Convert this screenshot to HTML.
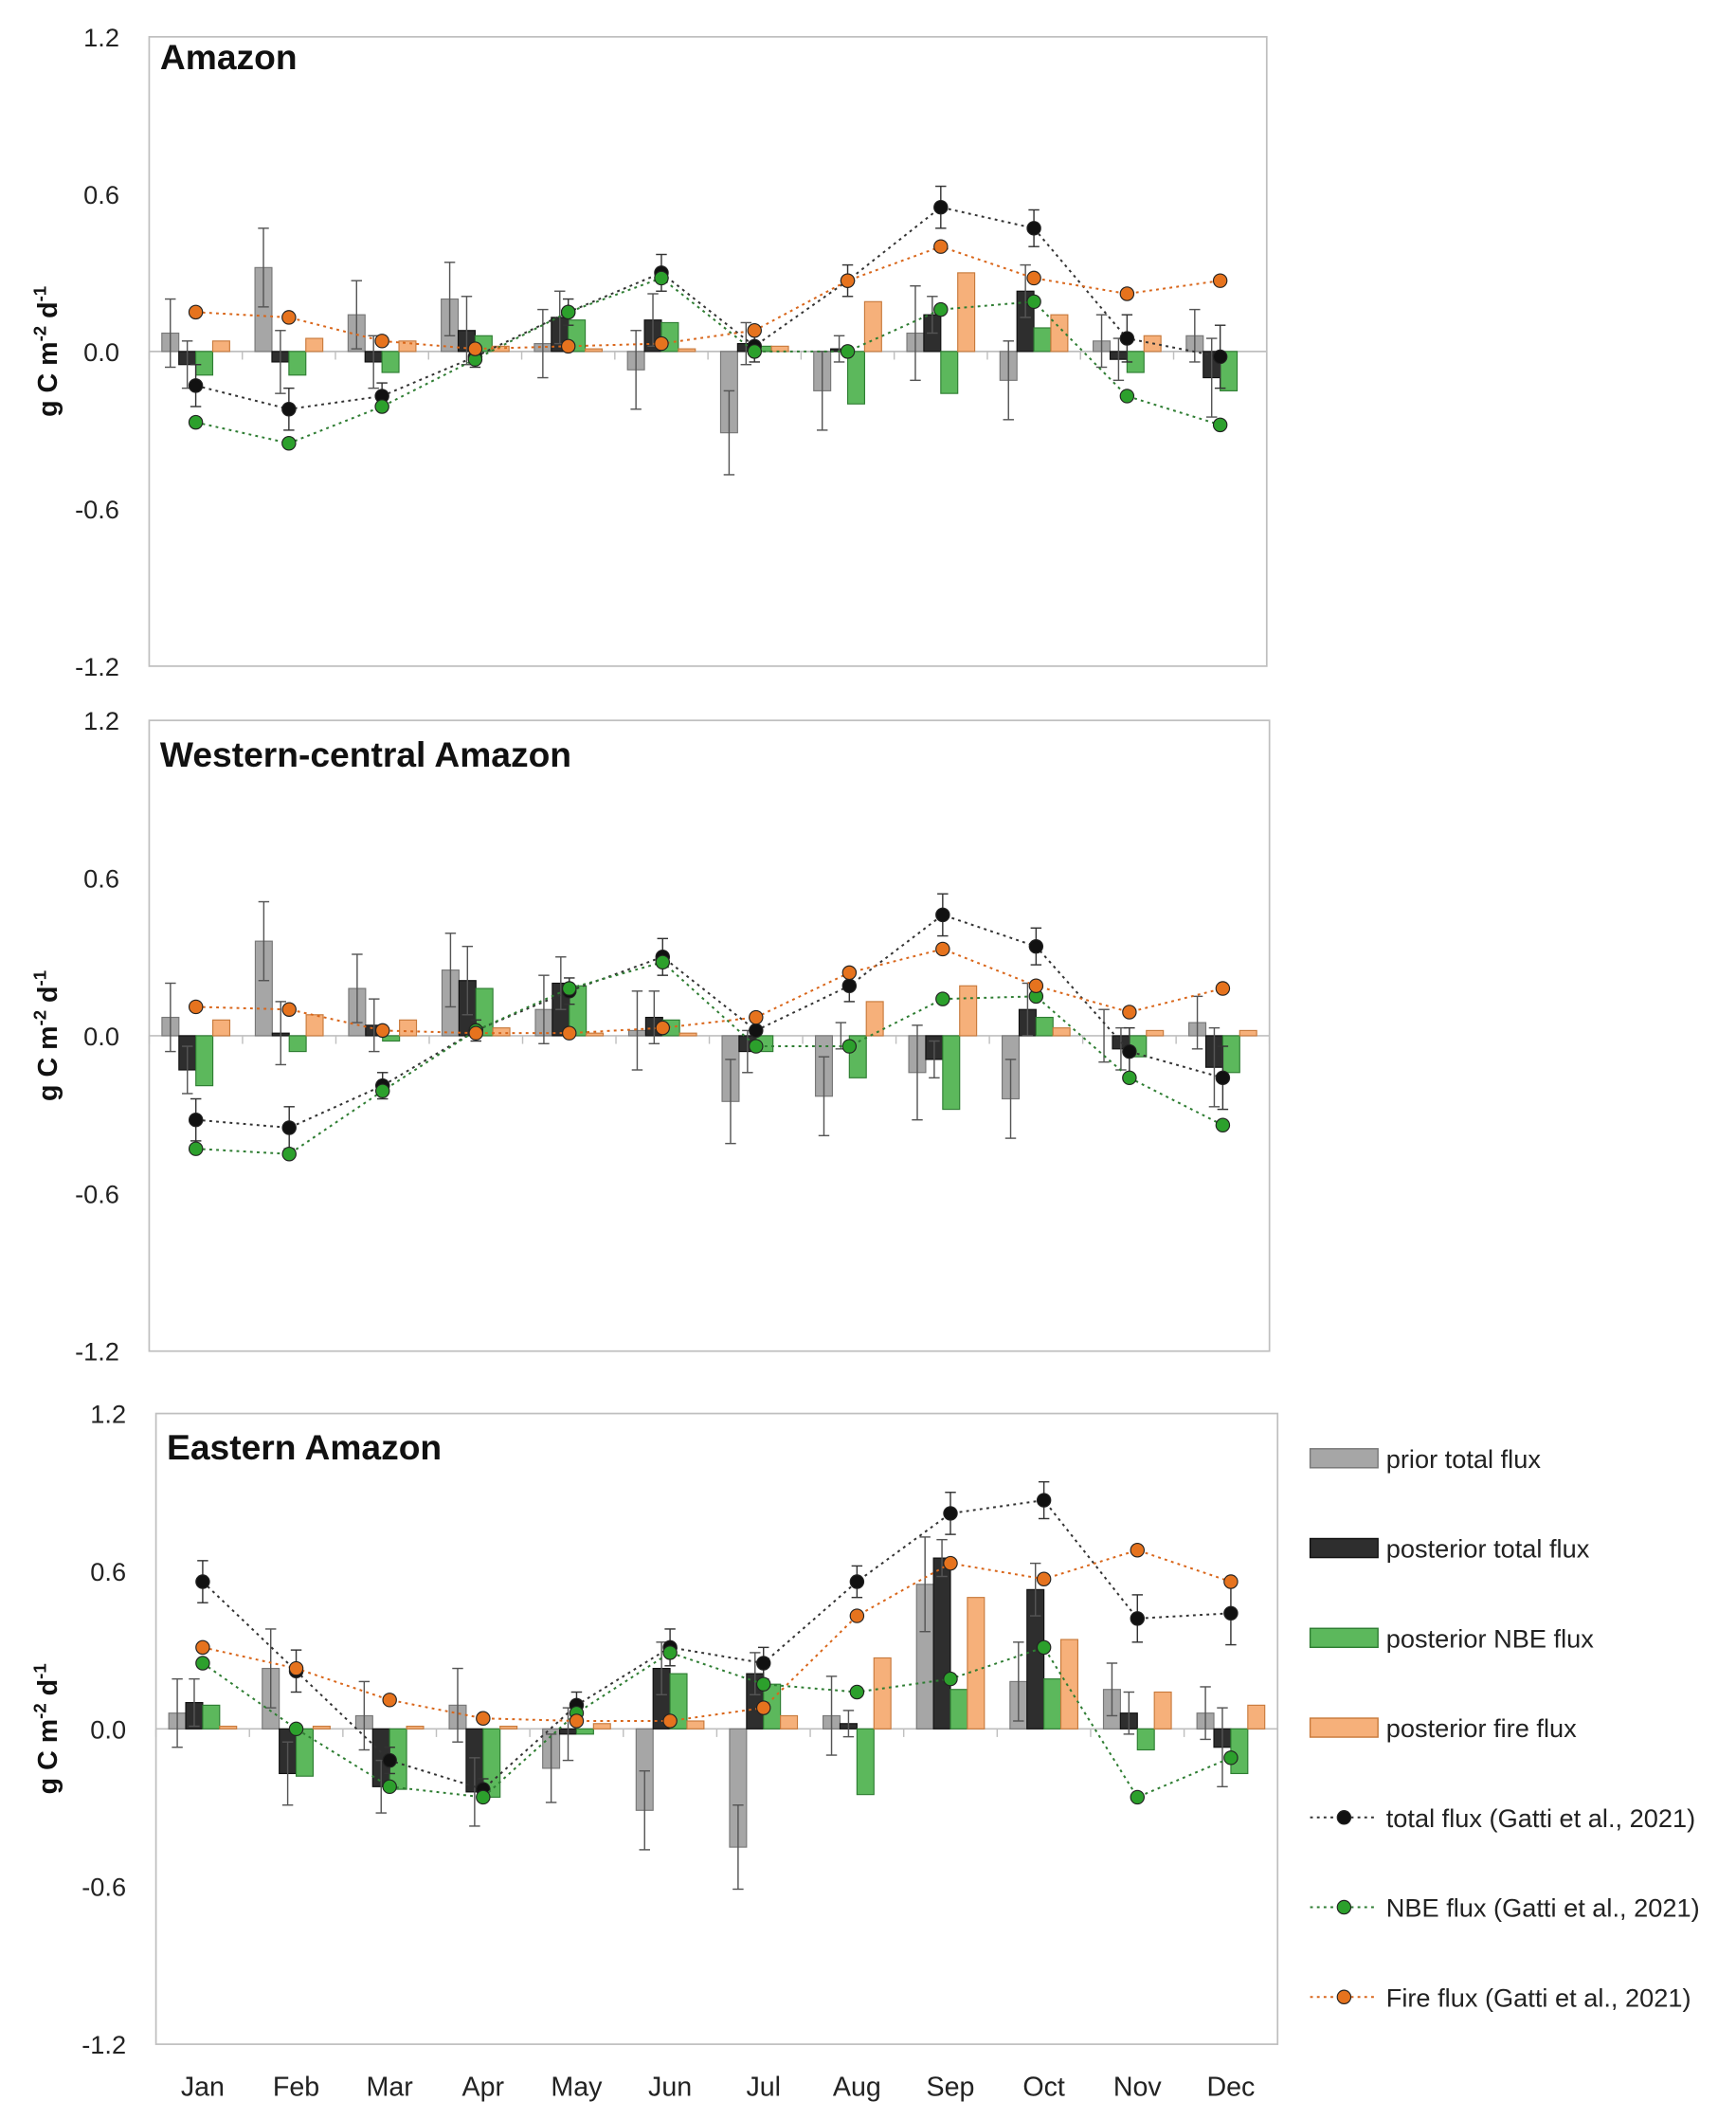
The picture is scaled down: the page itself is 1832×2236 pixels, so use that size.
<!DOCTYPE html>
<html><head><meta charset="utf-8">
<style>
html,body{margin:0;padding:0;background:#fff;}
svg{display:block;}
text{font-family:"Liberation Sans",sans-serif;}
</style></head>
<body>
<svg id="chart" width="1832" height="2236" viewBox="0 0 1280 1562" xmlns="http://www.w3.org/2000/svg"></svg>
<script>
const months=["Jan","Feb","Mar","Apr","May","Jun","Jul","Aug","Sep","Oct","Nov","Dec"];
const yTicks=[1.2,0.6,0.0,-0.6,-1.2];
const titles=["Amazon","Western-central Amazon","Eastern Amazon"];
// Amazon
const p1Prior=[0.07,0.32,0.14,0.20,0.03,-0.07,-0.31,-0.15,0.07,-0.11,0.04,0.06];
const p1Post=[-0.05,-0.04,-0.04,0.08,0.13,0.12,0.03,0.01,0.14,0.23,-0.03,-0.10];
const p1Nbe=[-0.09,-0.09,-0.08,0.06,0.12,0.11,0.02,-0.20,-0.16,0.09,-0.08,-0.15];
const p1Fire=[0.04,0.05,0.04,0.02,0.01,0.01,0.02,0.19,0.30,0.14,0.06,0.0];
const p1GTot=[-0.13,-0.22,-0.17,-0.02,0.15,0.30,0.02,0.27,0.55,0.47,0.05,-0.02];
const p1GNbe=[-0.27,-0.35,-0.21,-0.03,0.15,0.28,0.0,0.0,0.16,0.19,-0.17,-0.28];
const p1GFire=[0.15,0.13,0.04,0.01,0.02,0.03,0.08,0.27,0.40,0.28,0.22,0.27];
// Western-central
const p2Prior=[0.07,0.36,0.18,0.25,0.10,0.02,-0.25,-0.23,-0.14,-0.24,0.0,0.05];
const p2Post=[-0.13,0.01,0.04,0.21,0.20,0.07,-0.06,0.0,-0.09,0.10,-0.05,-0.12];
const p2Nbe=[-0.19,-0.06,-0.02,0.18,0.19,0.06,-0.06,-0.16,-0.28,0.07,-0.08,-0.14];
const p2Fire=[0.06,0.08,0.06,0.03,0.01,0.01,0.0,0.13,0.19,0.03,0.02,0.02];
const p2GTot=[-0.32,-0.35,-0.19,0.02,0.17,0.30,0.02,0.19,0.46,0.34,-0.06,-0.16];
const p2GNbe=[-0.43,-0.45,-0.21,0.02,0.18,0.28,-0.04,-0.04,0.14,0.15,-0.16,-0.34];
const p2GFire=[0.11,0.10,0.02,0.01,0.01,0.03,0.07,0.24,0.33,0.19,0.09,0.18];
// Eastern
const p3Prior=[0.06,0.23,0.05,0.09,-0.15,-0.31,-0.45,0.05,0.55,0.18,0.15,0.06];
const p3Post=[0.10,-0.17,-0.22,-0.24,-0.02,0.23,0.21,0.02,0.65,0.53,0.06,-0.07];
const p3Nbe=[0.09,-0.18,-0.23,-0.26,-0.02,0.21,0.17,-0.25,0.15,0.19,-0.08,-0.17];
const p3Fire=[0.01,0.01,0.01,0.01,0.02,0.03,0.05,0.27,0.50,0.34,0.14,0.09];
const p3GTot=[0.56,0.22,-0.12,-0.23,0.09,0.31,0.25,0.56,0.82,0.87,0.42,0.44];
const p3GNbe=[0.25,0.0,-0.22,-0.26,0.06,0.29,0.17,0.14,0.19,0.31,-0.26,-0.11];
const p3GFire=[0.31,0.23,0.11,0.04,0.03,0.03,0.08,0.43,0.63,0.57,0.68,0.56];
const priorErr=[0.13,0.15,0.13,0.14,0.13,0.15,0.16,0.15,0.18,0.15,0.10,0.10];
const postErr=[0.09,0.12,0.10,0.13,0.10,0.10,0.08,0.05,0.07,0.10,0.08,0.15];
const gattiErr=[0.08,0.08,0.05,0.04,0.05,0.07,0.06,0.06,0.08,0.07,0.09,0.12];

const panels=[
 {x0:110,x1:934,yTop:27,yBot:491,d:[p1Prior,p1Post,p1Nbe,p1Fire,p1GTot,p1GNbe,p1GFire],labels:false},
 {x0:110,x1:936,yTop:531,yBot:996,d:[p2Prior,p2Post,p2Nbe,p2Fire,p2GTot,p2GNbe,p2GFire],labels:false},
 {x0:115,x1:942,yTop:1042,yBot:1507,d:[p3Prior,p3Post,p3Nbe,p3Fire,p3GTot,p3GNbe,p3GFire],labels:true}
];
const svg=document.getElementById('chart');
const NS="http://www.w3.org/2000/svg";
function mk(tag,attrs,parent){const e=document.createElementNS(NS,tag);for(const k in attrs)e.setAttribute(k,attrs[k]);(parent||svg).appendChild(e);return e;}
const barFill=["#a6a6a6","#2e2e2e","#5cb85c","#f6b07a"];
const barStroke=["#777","#111","#2e7d32","#c87a3c"];
const dotFill=["#111","#2ca02c","#e6731e"];
const lineCol=["#333","#2e7d32","#d9661a"];

panels.forEach((p,pi)=>{
 const g=mk('g',{});
 
 
 const yS=v=>p.yTop+(1.2-v)/2.4*(p.yBot-p.yTop);
 const step=(p.x1-p.x0)/12;
 const xc=i=>p.x0+step*(i+0.5);
 const frame=mk('rect',{x:p.x0,y:p.yTop,width:p.x1-p.x0,height:p.yBot-p.yTop,fill:'none',stroke:'#bfbfbf','stroke-width':1.2},g);
 
 
 const z=yS(0);
 mk('line',{x1:p.x0,x2:p.x1,y1:z,y2:z,stroke:'#bfbfbf','stroke-width':1.2},g);
 for(let i=0;i<=12;i++){mk('line',{x1:p.x0+step*i,x2:p.x0+step*i,y1:z,y2:z+6,stroke:'#bfbfbf'},g);}
 yTicks.forEach(t=>{
  const tx=mk('text',{x:p.x0-22,y:yS(t)+7,'text-anchor':'end','font-size':19,fill:'#222'},g);
  tx.textContent=t.toFixed(1);
  
  
 });
 const tt=mk('text',{x:p.x0+8,y:p.yTop+(pi==0?24:34),'font-size':26,'font-weight':'bold',fill:'#111'},g);
 tt.textContent=titles[pi];
 
 
 const yc=(p.yTop+p.yBot)/2;
 const yt=mk('text',{transform:`translate(42,${yc}) rotate(-90)`,'text-anchor':'middle','font-size':20,'font-weight':'bold',fill:'#111'},g);
 yt.innerHTML='g C m<tspan dy="-8" font-size="13">-2</tspan><tspan dy="8"> d</tspan><tspan dy="-8" font-size="13">-1</tspan>';
 
 
 const bw=12.5;
 for(let s=0;s<4;s++){
  p.d[s].forEach((v,i)=>{
   const x=xc(i)-25+bw*s;
   const r=mk('rect',{x:x,y:Math.min(yS(v),z),width:bw,height:Math.abs(yS(v)-z),fill:barFill[s],stroke:barStroke[s],'stroke-width':0.8},g);
   
   
   if(s<2){
    const e=(s==0?priorErr:postErr)[i];
    const cx=x+bw/2;
    const a=yS(v+e),b=yS(v-e);
    mk('line',{x1:cx,x2:cx,y1:a,y2:b,stroke:'#555','stroke-width':1},g);
    mk('line',{x1:cx-4,x2:cx+4,y1:a,y2:a,stroke:'#555'},g);
    mk('line',{x1:cx-4,x2:cx+4,y1:b,y2:b,stroke:'#555'},g);
   }
  });
 }
 for(let s=0;s<3;s++){
  const arr=p.d[4+s];
  const pts=arr.map((v,i)=>xc(i)+','+yS(v)).join(' ');
  const pl=mk('polyline',{points:pts,fill:'none',stroke:lineCol[s],'stroke-width':1.4,'stroke-dasharray':'2,3'},g);
  
  
  arr.forEach((v,i)=>{
   if(s==0){
    const e=gattiErr[i];const a=yS(v+e),b=yS(v-e);
    mk('line',{x1:xc(i),x2:xc(i),y1:a,y2:b,stroke:'#333'},g);
    mk('line',{x1:xc(i)-4,x2:xc(i)+4,y1:a,y2:a,stroke:'#333'},g);
    mk('line',{x1:xc(i)-4,x2:xc(i)+4,y1:b,y2:b,stroke:'#333'},g);
   }
   const c=mk('circle',{cx:xc(i),cy:yS(v),r:5,fill:dotFill[s],stroke:'#222','stroke-width':0.8},g);
   
   
  });
 }
 if(p.labels){
  months.forEach((m,i)=>{
   const t=mk('text',{x:xc(i),y:p.yBot+38,'text-anchor':'middle','font-size':20,fill:'#222'},g);
   t.textContent=m;
   
   
  });
 }
});
const legendItems=["prior total flux","posterior total flux","posterior NBE flux","posterior fire flux","total flux (Gatti et al., 2021)","NBE flux (Gatti et al., 2021)","Fire flux (Gatti et al., 2021)"];
const lg=mk('g',{});


legendItems.forEach((t,i)=>{
 const y=1075+i*66.2;
 const it=mk('g',{},lg);
 
 
 if(i<4){mk('rect',{x:966,y:y-7,width:50,height:14,fill:barFill[i],stroke:barStroke[i]},it);}
 else{const s=i-4;mk('line',{x1:966,x2:1016,y1:y,y2:y,stroke:lineCol[s],'stroke-width':1.4,'stroke-dasharray':'2,3'},it);mk('circle',{cx:991,cy:y,r:5,fill:dotFill[s],stroke:'#222','stroke-width':0.8},it);}
 const tx=mk('text',{x:1022,y:y+7,'font-size':19,fill:'#222'},it);
 tx.textContent=t;
});
</script>
</body></html>
